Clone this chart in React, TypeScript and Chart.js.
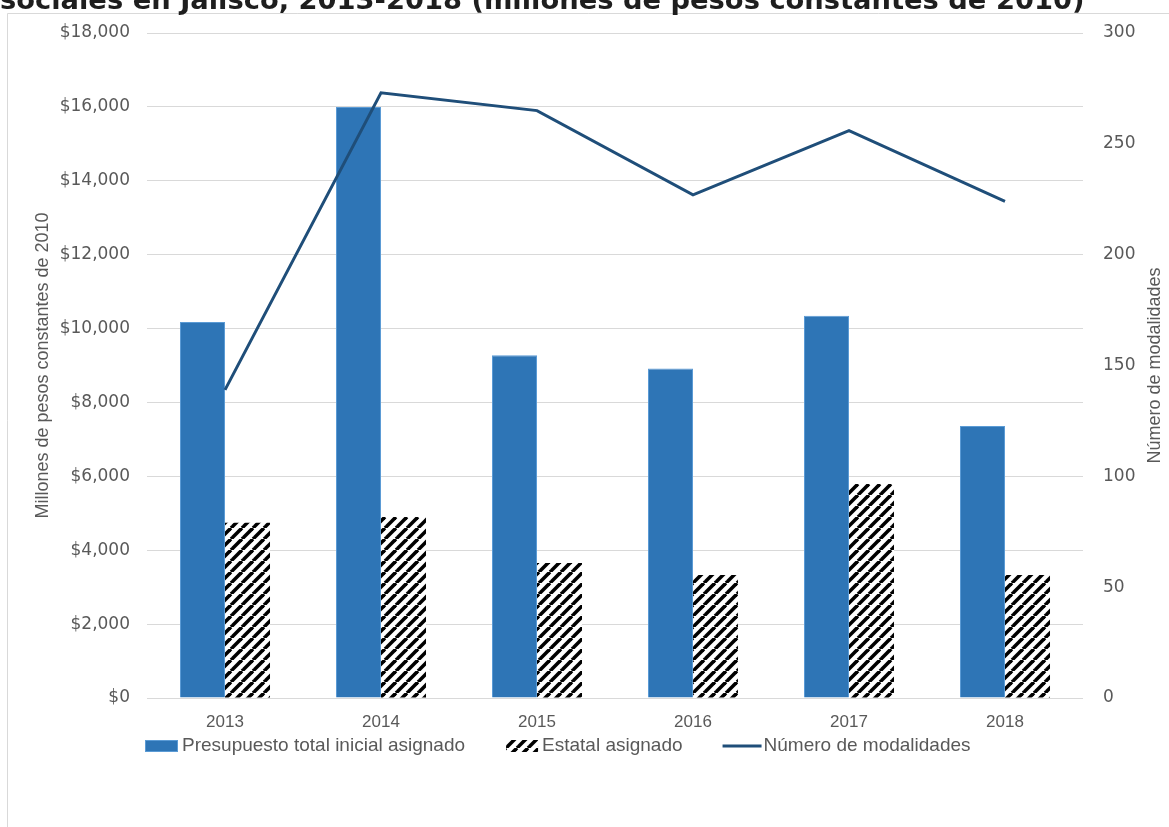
import React, { useEffect, useRef } from 'react';
import { Chart, registerables } from 'chart.js';

Chart.register(...registerables);

const categories = ['2013', '2014', '2015', '2016', '2017', '2018'];
const presupuestoTotal = [10180, 16000, 9280, 8920, 10350, 7360];
const estatalAsignado = [4745, 4900, 3655, 3330, 5790, 3330];
const numeroModalidades = [139, 273, 265, 227, 256, 224];
const leftTickValues = [0, 2000, 4000, 6000, 8000, 10000, 12000, 14000, 16000, 18000];
const rightTickValues = [0, 50, 100, 150, 200, 250, 300];
const seriesNames = ['Presupuesto total inicial asignado', 'Estatal asignado', 'Número de modalidades'];
const titleText = 'sociales en Jalisco, 2013-2018 (millones de pesos constantes de 2010)';
const leftAxisTitle = 'Millones de pesos constantes de 2010';
const rightAxisTitle = 'Número de modalidades';

const BLUE = '#2E75B6';
const BLUE_EDGE = '#5B9BD5';
const LINE = '#1F4E79';
const TEXT = '#595959';
const GRID = '#d9d9d9';

export default function App() {
  const ref = useRef<HTMLCanvasElement>(null);

  useEffect(() => {
    document.body.style.margin = '0';
    const canvas = ref.current!;
    const P = 11;
    const tile = document.createElement('canvas');
    tile.width = P;
    tile.height = P;
    const t = tile.getContext('2d')!;
    t.fillStyle = '#ffffff';
    t.fillRect(0, 0, P, P);
    t.strokeStyle = '#000000';
    t.lineWidth = 3.6;
    for (const k of [-P, 0, P]) {
      t.beginPath();
      t.moveTo(k, P);
      t.lineTo(k + P, 0);
      t.stroke();
    }
    const hatch = canvas.getContext('2d')!.createPattern(tile, 'repeat')!;

    const deco = {
      id: 'deco',
      beforeDraw(chart: any) {
        const c = chart.ctx as CanvasRenderingContext2D;
        c.save();
        c.fillStyle = '#ffffff';
        c.fillRect(0, 0, chart.width, chart.height);
        c.strokeStyle = GRID;
        c.lineWidth = 1;
        c.beginPath();
        c.moveTo(7.5, chart.height);
        c.lineTo(7.5, 13.5);
        c.lineTo(chart.width, 13.5);
        c.stroke();
        c.fillStyle = '#1e1e1e';
        c.font = 'bold 100px "DejaVu Sans"';
        const w = c.measureText(titleText).width;
        const size = (100 * 1085) / w;
        c.font = `bold ${size}px "DejaVu Sans"`;
        c.textAlign = 'left';
        c.textBaseline = 'alphabetic';
        c.fillText(titleText, 0, 9);
        c.restore();
      },
      afterDraw(chart: any) {
        const c = chart.ctx as CanvasRenderingContext2D;
        const a = chart.chartArea;
        const cy = (a.top + a.bottom) / 2;
        c.save();
        c.fillStyle = TEXT;
        c.font = '18px "Liberation Sans"';
        c.textAlign = 'center';
        c.textBaseline = 'middle';
        c.translate(43, cy);
        c.rotate(-Math.PI / 2);
        c.fillText(leftAxisTitle, 0, 0);
        c.restore();

        c.save();
        c.fillStyle = TEXT;
        c.font = '18px "Liberation Sans"';
        c.textAlign = 'center';
        c.textBaseline = 'middle';
        c.translate(1155, cy);
        c.rotate(-Math.PI / 2);
        c.fillText(rightAxisTitle, 0, 0);
        c.restore();

        // legend
        c.save();
        const ly = 746;
        let lx = a.left - 2;
        c.font = '19px "Liberation Sans"';
        c.textAlign = 'left';
        c.textBaseline = 'middle';
        c.fillStyle = BLUE;
        c.fillRect(lx, ly - 6, 33, 12);
        c.strokeStyle = BLUE_EDGE;
        c.lineWidth = 1;
        c.strokeRect(lx + 0.5, ly - 5.5, 32, 11);
        c.fillStyle = TEXT;
        c.fillText(seriesNames[0], lx + 37, ly);
        lx = lx + 37 + c.measureText(seriesNames[0]).width + 41;

        c.fillStyle = hatch;
        c.fillRect(lx, ly - 6, 32, 12);
        c.fillStyle = TEXT;
        c.fillText(seriesNames[1], lx + 36, ly);
        lx = lx + 36 + c.measureText(seriesNames[1]).width + 40;

        c.strokeStyle = LINE;
        c.lineWidth = 3;
        c.beginPath();
        c.moveTo(lx, ly);
        c.lineTo(lx + 39, ly);
        c.stroke();
        c.fillStyle = TEXT;
        c.fillText(seriesNames[2], lx + 41, ly);
        c.restore();
      },
    };

    const chart = new Chart(canvas, {
      type: 'bar',
      data: {
        labels: categories,
        datasets: [
          {
            type: 'line',
            label: seriesNames[2],
            data: numeroModalidades,
            yAxisID: 'y1',
            borderColor: LINE,
            backgroundColor: LINE,
            borderWidth: 3,
            pointRadius: 0,
            tension: 0,
            order: 0,
          } as any,
          {
            type: 'bar',
            label: seriesNames[0],
            data: presupuestoTotal,
            yAxisID: 'y',
            backgroundColor: BLUE,
            borderColor: BLUE_EDGE,
            borderWidth: 1,
            categoryPercentage: 0.577,
            barPercentage: 1,
            order: 1,
          },
          {
            type: 'bar',
            label: seriesNames[1],
            data: estatalAsignado,
            yAxisID: 'y',
            backgroundColor: hatch as any,
            borderWidth: 0,
            categoryPercentage: 0.577,
            barPercentage: 1,
            order: 2,
          },
        ],
      },
      options: {
        animation: false,
        responsive: true,
        maintainAspectRatio: false,
        layout: { padding: { top: 33, left: 0, right: 0, bottom: 0 } },
        plugins: {
          legend: { display: false },
          tooltip: { enabled: false },
          title: { display: false },
        },
        scales: {
          x: {
            grid: { display: false, drawTicks: false },
            border: { display: false },
            ticks: {
              color: TEXT,
              font: { family: 'Liberation Sans', size: 17 },
              padding: 14,
              maxRotation: 0,
            },
            afterFit(s: any) {
              s.height = 129;
            },
          },
          y: {
            position: 'left',
            min: 0,
            max: 18000,
            afterBuildTicks(s: any) {
              s.ticks = leftTickValues.map((v) => ({ value: v }));
            },
            ticks: {
              color: TEXT,
              font: { family: 'DejaVu Sans', size: 17 },
              padding: 17,
              callback: (v: any) => '$' + Number(v).toLocaleString('en-US'),
            },
            grid: { color: GRID, lineWidth: 1, drawTicks: false },
            border: { display: false },
            afterFit(s: any) {
              s.width = 147;
            },
          },
          y1: {
            position: 'right',
            min: 0,
            max: 300,
            afterBuildTicks(s: any) {
              s.ticks = rightTickValues.map((v) => ({ value: v }));
            },
            ticks: {
              color: TEXT,
              font: { family: 'DejaVu Sans', size: 17 },
              padding: 20,
            },
            grid: { display: false, drawTicks: false },
            border: { display: false },
            afterFit(s: any) {
              s.width = 86;
            },
          },
        },
      },
      plugins: [deco],
    });

    return () => chart.destroy();
  }, []);

  return (
    <div style={{ width: 1169, height: 827, position: 'relative' }}>
      <canvas ref={ref} />
    </div>
  );
}
